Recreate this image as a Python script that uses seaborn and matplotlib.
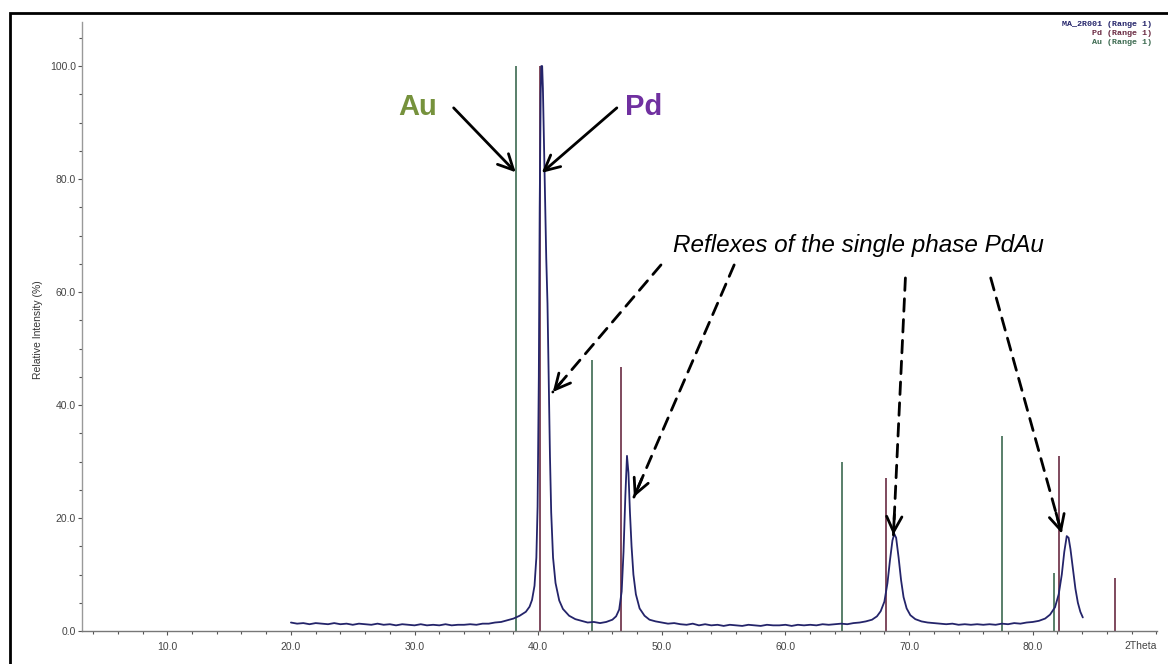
import numpy as np
import pandas as pd
import seaborn as sns
import matplotlib.pyplot as plt
from matplotlib.patches import Rectangle
from matplotlib.ticker import MultipleLocator

two_theta = [
    20.0, 20.5, 21.0, 21.5, 22.0, 22.5, 23.0, 23.5, 24.0, 24.5, 25.0, 25.5,
    26.0, 26.5, 27.0, 27.5, 28.0, 28.5, 29.0, 29.5, 30.0, 30.5, 31.0, 31.5,
    32.0, 32.5, 33.0, 33.5, 34.0, 34.5, 35.0, 35.5, 36.0, 36.5, 37.0, 37.5,
    38.0, 38.5, 39.0, 39.3, 39.5, 39.7, 39.85, 39.95, 40.05, 40.12, 40.2,
    40.25, 40.32, 40.38, 40.45, 40.55, 40.65, 40.75, 40.85, 40.95, 41.05,
    41.2, 41.4, 41.7, 42.0, 42.5, 43.0, 43.5, 44.0, 44.5, 45.0, 45.5, 46.0,
    46.3, 46.55, 46.75, 46.9, 47.05, 47.18, 47.3, 47.42, 47.55, 47.7, 47.9,
    48.2, 48.6, 49.0, 49.5, 50.0, 50.5, 51.0, 51.5, 52.0, 52.5, 53.0, 53.5,
    54.0, 54.5, 55.0, 55.5, 56.0, 56.5, 57.0, 57.5, 58.0, 58.5, 59.0, 59.5,
    60.0, 60.5, 61.0, 61.5, 62.0, 62.5, 63.0, 63.5, 64.0, 64.5, 65.0, 65.5,
    66.0, 66.5, 67.0, 67.4, 67.7, 68.0, 68.25, 68.45, 68.65, 68.8, 68.95,
    69.15, 69.35, 69.55, 69.8, 70.1, 70.5, 71.0, 71.5, 72.0, 72.5, 73.0,
    73.5, 74.0, 74.5, 75.0, 75.5, 76.0, 76.5, 77.0, 77.5, 78.0, 78.5, 79.0,
    79.5, 80.0, 80.5, 81.0, 81.4, 81.8, 82.1, 82.35, 82.55, 82.75, 82.9,
    83.05, 83.25, 83.45, 83.65, 83.85, 84.05,
]
intensity = [
    1.5, 1.3, 1.4, 1.2, 1.4, 1.3, 1.2, 1.4, 1.2, 1.3, 1.1, 1.3,
    1.2, 1.1, 1.3, 1.1, 1.2, 1.0, 1.2, 1.1, 1.0, 1.2, 1.0, 1.1,
    1.0, 1.2, 1.0, 1.1, 1.1, 1.2, 1.1, 1.3, 1.3, 1.5, 1.6, 1.9,
    2.2, 2.7, 3.4, 4.3, 5.5, 8.0, 13.0, 22.0, 45.0, 75.0, 95.0,
    100.0, 100.0, 96.0, 88.0, 76.0, 66.0, 58.0, 45.0, 31.0, 21.0,
    13.0, 8.5, 5.4, 3.9, 2.7, 2.1, 1.8, 1.5, 1.6, 1.4, 1.6, 2.0,
    2.6, 3.8, 7.0, 14.0, 24.0, 31.0, 28.0, 21.0, 15.0, 10.0, 6.5,
    4.0, 2.7, 2.0, 1.7, 1.5, 1.3, 1.4, 1.2, 1.1, 1.3, 1.0, 1.2,
    1.0, 1.1, 0.9, 1.1, 1.0, 0.9, 1.1, 1.0, 0.9, 1.1, 1.0, 1.0,
    1.1, 0.9, 1.1, 1.0, 1.1, 1.0, 1.2, 1.1, 1.2, 1.3, 1.2, 1.4,
    1.5, 1.7, 2.0, 2.6, 3.5, 5.2, 8.5, 12.5, 16.0, 17.2, 16.5,
    13.0, 9.0, 6.0, 4.0, 2.8, 2.1, 1.7, 1.5, 1.4, 1.3, 1.2,
    1.3, 1.1, 1.2, 1.1, 1.2, 1.1, 1.2, 1.1, 1.3, 1.2, 1.4, 1.3,
    1.5, 1.6, 1.8, 2.2, 2.9, 4.2, 6.5, 10.0, 14.0, 16.8, 16.5,
    14.5, 11.0, 7.5, 5.0, 3.4, 2.4,
]

# reference stick patterns
au_pos = [38.18, 44.39, 64.58, 77.55, 81.72]
au_int = [100.0, 48.0, 30.0, 34.5, 10.3]
pd_pos = [40.12, 46.66, 68.12, 82.10, 86.62]
pd_int = [100.0, 46.7, 27.0, 31.0, 9.3]

x_major = [10, 20, 30, 40, 50, 60, 70, 80]
y_major = [0, 20, 40, 60, 80, 100]

legend_lines = ["MA_2R001 (Range 1)", "Pd (Range 1)", "Au (Range 1)"]

curve_col = "#24246a"
au_col = "#3c6a50"
pd_col = "#6a2a42"

W, H = 1168, 664


def fx(px):
    return px / W


def fy(py):
    return 1 - py / H


def main():
    sns.set_style("white")
    plt.rcParams["font.family"] = ["Liberation Sans", "DejaVu Sans"]

    fig = plt.figure(figsize=(W / 100, H / 100), dpi=100)
    ax = fig.add_axes([fx(82), fy(631), fx(1157) - fx(82), fy(22) - fy(631)])

    df = pd.DataFrame({"two_theta": two_theta, "intensity": intensity})
    sns.lineplot(data=df, x="two_theta", y="intensity", ax=ax, color=curve_col,
                 lw=1.3, sort=False, estimator=None, zorder=3)
    ax.vlines(au_pos, 0, au_int, color=au_col, lw=1.2, zorder=2)
    ax.vlines(pd_pos, 0, pd_int, color=pd_col, lw=1.2, zorder=2)

    ax.set_xlim(3.1, 90.05)
    ax.set_ylim(0, 107.8)
    ax.set_xticks(x_major)
    ax.set_xticklabels([f"{v:.1f}" for v in x_major])
    ax.set_yticks(y_major)
    ax.set_yticklabels([f"{v:.1f}" for v in y_major])
    ax.xaxis.set_minor_locator(MultipleLocator(2))
    ax.yaxis.set_minor_locator(MultipleLocator(5))
    ax.tick_params(axis="both", which="both", direction="out", colors="#555555",
                   labelsize=7.5, labelcolor="#444444")
    ax.tick_params(axis="both", which="major", length=3, width=0.8)
    ax.tick_params(axis="both", which="minor", length=2, width=0.8)
    ax.tick_params(axis="x", which="major", pad=5)
    ax.tick_params(axis="y", which="major", pad=1.5)
    ax.tick_params(axis="x", which="both", bottom=True)
    ax.tick_params(axis="y", which="both", left=True)
    ax.set_xlabel("")
    ax.set_ylabel("")
    for s in ["top", "right"]:
        ax.spines[s].set_visible(False)
    ax.spines["left"].set_color("#999999")
    ax.spines["bottom"].set_color("#777777")
    ax.spines["left"].set_linewidth(1.0)
    ax.spines["bottom"].set_linewidth(1.0)

    # last x label is the axis name instead of a number
    ax.text(90.05, -1.7, "2Theta", ha="right", va="top", fontsize=7.5,
            color="#444444")
    fig.text(fx(38), fy(330), "Relative Intensity (%)", rotation=90,
             ha="center", va="center", fontsize=7.5, color="#333333")

    # legend in the corner
    for i, (txt, c) in enumerate(zip(legend_lines, [curve_col, pd_col, au_col])):
        fig.text(fx(1152), fy(25 + 8.5 * i), txt, ha="right", va="center",
                 fontsize=6, family="Liberation Mono", weight="bold", color=c)

    # phase labels with solid arrows
    ax.text(31.8, 92.7, "Au", ha="right", va="center", fontsize=21,
            weight="bold", color="#76923c")
    ax.text(47.0, 92.7, "Pd", ha="left", va="center", fontsize=21,
            weight="bold", color="#7030a0")
    solid = dict(arrowstyle="->,head_length=1.1,head_width=0.55", lw=2,
                 color="black", shrinkA=0, shrinkB=0)
    ax.annotate("", xy=(38.18, 81.2), xytext=(33.16, 92.6), arrowprops=solid)
    ax.annotate("", xy=(40.29, 81.1), xytext=(46.36, 92.6), arrowprops=solid)

    ax.text(65.9, 68.3, "Reflexes of the single phase PdAu", ha="center",
            va="center", fontsize=17.5, style="italic", color="black")

    # dashed arrows to the PdAu reflexes
    starts = [(49.93, 64.8), (55.85, 64.8), (69.7, 62.5), (76.6, 62.5)]
    tips = [(41.18, 42.3), (47.74, 23.7), (68.73, 17.0), (82.34, 17.3)]
    dashed = dict(arrowstyle="-", lw=2, color="black", linestyle=(0, (4.5, 3)),
                  shrinkA=0, shrinkB=0)
    for (x0, y0), (x1, y1) in zip(starts, tips):
        ax.annotate("", xy=(x1, y1), xytext=(x0, y0), arrowprops=dashed)
        xm = x1 + (x0 - x1) * 0.08
        ym = y1 + (y0 - y1) * 0.08
        ax.annotate("", xy=(x1, y1), xytext=(xm, ym), arrowprops=solid)

    fig.add_artist(Rectangle((fx(10), -0.1), 1.2, fy(13) + 0.1,
                             transform=fig.transFigure, fill=False, lw=2,
                             ec="black"))

    plt.savefig("out.png", dpi=100, facecolor="white")
    plt.close()


if __name__ == '__main__':
    main()
